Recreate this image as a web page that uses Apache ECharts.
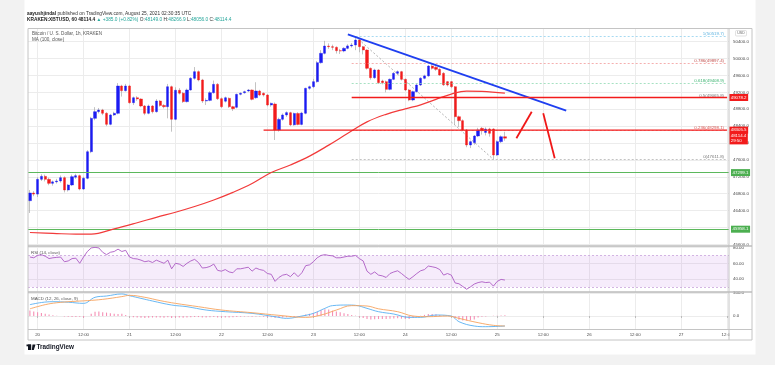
<!DOCTYPE html>
<html><head><meta charset="utf-8">
<script src="https://cdn.jsdelivr.net/npm/echarts@6/dist/echarts.min.js"></script>
<style>html,body{margin:0;padding:0;background:#f2f2f2}#c{width:775px;height:365px}</style>
</head><body><div id="c"></div>
<script>
// ---------- data ----------
const tickLabels = ['20','12:00','21','12:00','22','12:00','23','12:00','24','12:00','25','12:00','26','12:00','27','12:00'];
const firstHour = -2;      // first candle: Aug 19 22:00 (hours from Aug 20 00:00)
const lastAxisHour = 180;  // axis runs to Aug 27 12:00
// hourly candles [open, close, low, high]
const candles = [
[46633,46816,46342,46886],[46816,46790,46740,46860],[46790,47140,46720,47190],[47140,47210,47100,47260],
[47210,47140,47090,47250],[47140,47045,47000,47180],[47045,47080,46990,47110],[47080,47100,47040,47150],
[47100,47178,47060,47230],[47178,46887,46830,47210],[46887,47005,46850,47030],[47005,47202,46980,47250],
[47190,47226,47150,47270],[47226,46910,46880,47250],[46910,47164,46890,47200],[47164,47794,47140,47830],
[47794,48585,47760,48620],[48585,48742,48540,48850],[48742,48782,48700,48830],[48782,48704,48660,48810],
[48704,48443,48400,48730],[48443,48664,48420,48690],[48664,48704,48640,48740],[48704,49351,48680,49420],
[49351,49240,49100,49380],[49240,49351,49220,49400],[49351,48955,48930,49380],[48955,49073,48900,49100],
[49073,49043,49000,49110],[49043,48877,48850,49060],[48877,48704,48660,48900],[48704,48877,48680,48910],
[48877,48742,48700,48900],[48742,48995,48720,49040],[48995,48890,48860,49020],[48890,48860,48820,48920],
[48860,49334,48585,49400],[49334,48562,48268,49360],[48562,49250,48540,49320],[49250,49180,49150,49300],
[49180,48980,48950,49210],[48980,49256,48960,49290],[49256,49533,49240,49560],[49533,49690,49500,49800],
[49690,49493,49460,49720],[49493,48995,48950,49520],[48995,49010,48900,49060],[49010,49192,48990,49230],
[49192,49390,49170,49480],[49390,49050,49020,49420],[49050,48860,48830,49080],[48990,49073,48960,49100],
[49059,48860,48830,49080],[48860,48813,48760,48880],[48846,49154,48820,49170],[49154,49178,49130,49200],
[49190,49216,49170,49240],[49232,49256,49210,49280],[49256,49035,49010,49270],[49073,49232,49050,49440],
[49232,49137,49110,49260],[49178,49137,49100,49200],[49137,48900,48870,49160],[48900,48940,48860,48960],
[48924,48308,48071,48960],[48308,48560,48270,48600],[48562,48664,48530,48700],[48664,48720,48620,48750],
[48718,48430,48400,48740],[48430,48700,48410,48720],[48700,48440,48420,48730],[48440,48710,48420,48740],
[48704,49296,48680,49310],[49296,49334,49260,49360],[49334,49453,49300,49520],[49453,49903,49430,49940],
[49903,50125,49880,50200],[50125,50298,50100,50420],[50298,50282,50230,50360],[50282,50267,50200,50330],
[50267,50187,50120,50290],[50187,50180,50110,50230],[50180,50243,50150,50270],[50243,50300,50220,50340],
[50300,50322,50260,50370],[50322,50440,50200,50519.7],[50440,50282,50150,50480],[50282,50203,50100,50300],
[50203,49770,49740,50220],[49770,49547,49500,49790],[49547,49730,49520,49760],[49730,49430,49400,49750],
[49470,49430,49390,49500],[49453,49272,49200,49480],[49272,49509,49250,49530],[49509,49651,49490,49680],
[49651,49690,49610,49720],[49690,49509,49480,49710],[49509,49256,49230,49530],[49256,49019,48990,49280],
[49019,49216,48990,49240],[49216,49374,49200,49400],[49374,49533,49350,49560],[49533,49590,49510,49620],
[49590,49824,49570,49850],[49824,49770,49740,49880],[49793,49746,49710,49820],[49746,49611,49590,49770],
[49651,49380,49350,49680],[49453,49374,49340,49470],[49453,49334,49300,49470],[49334,48623,48427,49350],
[48623,48529,48380,48650],[48529,48308,48280,48560],[48308,47953,47900,48330],[47953,48032,47880,48060],
[48008,48166,47960,48190],[48166,48308,48140,48360],[48348,48292,48200,48380],[48250,48330,48180,48370],
[48332,48230,48150,48360],[48332,47716,47611.8,48350],[47716,48032,47690,48060],[48032,48149,48000,48180],
[48149,48114.4,48056,48266.9]
];
// MA(100, close) read at [hour, value]
const maPoints = [[-2,45880],[4,45860],[10,45840],[14,45842],[20,45965],[26,46110],[31,46240],[36,46360],
[41,46495],[46,46650],[51,46830],[56,47040],[61,47300],[66,47480],[71,47690],[76,47950],[81,48230],[86,48500],
[91,48680],[96,48810],[100,48905],[104,49035],[108,49160],[112,49228],[116,49222],[122,49180]];
// RSI(14) hourly from h=-2
const rsi = [68,67,70,71,69,66,67,67.5,68,62,63,66,
66.5,60,68,75,79.5,80.3,79.5,74,71,74,
75,78,75,76.5,68,66,65.5,64,62,63,
61,64,62,60,64,53,60,59,56,60,
63,65,61,54,54.5,56,59,51,50,52,
49,48,53,53,54,55,50,54,52,51,
47,46,37,42,45,46,43,48,43,48,
57,58,62,67,70,71,70,69.5,67,67,
68,69,69,70,66,63,50,46,49,45,
44,42,47,49,50.5,47,43,39.5,43,47,
50.5,52,56.5,55.6,54.5,52,45,47,45,35,
34,30.5,27,30,33.6,35.5,36.5,35.5,36,31,
37,39.5,38.7];
// MACD(12,26,9): lines read at [hour, value], histogram hourly from h=-2
const macdPts = [[-2,150],[1,178],[4,189],[8,182],[12,167],[15,247],[18,264],[22,291],[24,268],[27,233],[30,198],
[35,145],[39,123],[44,79],[49,57],[56,35],[62,-9],[65,-31],[69,0],[72,35],[75,101],[77,137],[81,145],[83,141],
[86,101],[89,57],[93,26],[97,-18],[100,-18],[104,13],[108,0],[110,-75],[114,-132],[117,-141],[122,-132]];
const signalPts = [[-2,95],[2,150],[5,175],[9,192],[13,203],[17,220],[22,256],[24,273],[28,247],[32,203],[36,167],
[42,123],[48,79],[56,44],[63,9],[70,-18],[74,13],[78,79],[82,137],[86,132],[89,95],[94,57],[98,0],[102,-9],
[107,0],[110,-31],[115,-88],[119,-123],[122,-132]];
const hist = [72,60,50,40,30,20,
10,5,0,-5,-10,-12,-12,-10,-20,
0,30,55,60,50,45,38,
30,25,30,15,
-5,-15,-20,-22,-25,-22,-20,-18,-20,-22,
-15,-25,-20,-20,-22,-20,-15,-12,-14,-20,-18,-16,
-14,-18,-20,-18,-18,-17,-12,-10,-8,-6,-9,-7,-8,-10,-12,
-15,-25,-22,-18,-16,-15,-13,-10,-5,
20,30,40,55,75,90,85,70,60,50,
35,25,15,5,-10,-25,-40,-45,-42,-40,
-38,-40,-35,-32,-30,-35,-40,-38,-25,
-10,5,15,25,26,22,15,8,2,
-5,-30,-50,-60,-60,-55,-45,-20,-10,
-5,0,3,5,8,9];
// drawings
const fibRatios = ['1','0.786','0.618','0.5','0.236','0'];
const fibValues = [50519.7,49897.4,49408.9,49065.8,48298.1,47611.8];
const fibStartHour = 82;
const fibAnchors = [[83,50519.7],[119,47611.8]];
const greenLevels = [47299.1,45958.1];
const redLevels = [49078.2,48305.5];
const redStartHours = [82,59];
const lastPrice = 48114.4, countdown = '29:50';
const trendLine = [[81,50575],[138,48765]];
const arrowUp = [[125,48112],[129,48742]];
const arrowDown = [[132,48704],[135,47637]];

// ---------- chart ----------
const FONT = 'Liberation Sans, Arial, sans-serif';
const idx = h => h - firstHour;
const cats = []; for (let h = firstHour; h <= lastAxisHour; h++) cats.push(String(h));
const isTick = (i, v) => { const h = +v; return h >= 0 && h % 12 === 0; };
const GRID = '#ececec';
const CLEAR = 'rgba(255,255,255,0)';

function xa(g, labels) {
  return {type:'category', gridIndex:g, data:cats, boundaryGap:true,
    axisLine:{show:false},
    axisTick: labels ? {show:true, interval:isTick, alignWithLabel:true, length:2, lineStyle:{color:'#9a9a9a', width:0.6}} : {show:false},
    axisLabel: labels ? {show:true, interval:isTick, formatter:v => tickLabels[(+v)/12], fontSize:4.4, color:'#4a4a4a', margin:3, fontFamily:FONT} : {show:false},
    splitLine:{show:true, interval:isTick, alignWithLabel:true, lineStyle:{color:GRID, width:1}}};
}
function ya(g, min, max, step, dec) {
  return {type:'value', gridIndex:g, position:'right', min, max, minInterval:step, maxInterval:step, splitNumber:5,
    axisLine:{show:false}, axisTick:{show:false},
    axisLabel:{fontSize:4.4, color:'#4a4a4a', margin:4, fontFamily:FONT,
      formatter: v => (Math.abs(v / step - Math.round(v / step)) < 1e-6 ? v.toFixed(dec) : '')},
    splitLine:{lineStyle:{color:GRID, width:1}}};
}
const box = (text, bg) => ({show:true, position:'end', distance:2, formatter:text, backgroundColor:bg, color:'#fff',
  fontSize:4.4, fontFamily:FONT, padding:[1,1.6,0.6,1.6], lineHeight:5.4});

// axis boxes; green lines drawn here, red lines drawn by line series below
const bodyMarks = [];
greenLevels.forEach(v => bodyMarks.push({yAxis:v, lineStyle:{color:'#5cb85c', width:1, type:'solid'}, label:box(v.toFixed(1), '#4caf50')}));
redLevels.forEach(v => bodyMarks.push([
  {coord:[idx(lastAxisHour - 1), v], lineStyle:{color:CLEAR, width:0.1}, label:box(v.toFixed(1), '#f21b1b')},
  {coord:[idx(lastAxisHour), v]}]));
bodyMarks.push([
  {coord:[idx(lastAxisHour - 1), lastPrice], lineStyle:{color:CLEAR, width:0.1}, label:box(lastPrice.toFixed(1) + '\n' + countdown, '#f21b1b')},
  {coord:[idx(lastAxisHour), lastPrice]}]);

const fibLine = ['#8fd0ef','#f29b9b','#8fd9b3',CLEAR,'#f29b9b','#b5b5b5'];
const fibText = ['#5fb3e0','#c0504d','#3cb371','#777777','#d9534f','#777777'];
const fibMarks = fibValues.map((v, k) => [
  {coord:[idx(fibStartHour), v], lineStyle:{color:fibLine[k], width:0.8, type:[2,2]},
   label:{show:true, position:'insideEndTop', distance:[3,0.5], formatter:fibRatios[k] + '(' + v.toFixed(1) + ')',
          color:fibText[k], fontSize:4.4, fontFamily:FONT}},
  {coord:[idx(lastAxisHour), v]}]);

const P = pts => pts.map(([h, v]) => [idx(h), v]);
const redLineSeries = redLevels.map((v, k) => ({type:'line', name:'level' + k, xAxisIndex:0, yAxisIndex:0, z:7,
  data:[[idx(redStartHours[k]), v], [idx(lastAxisHour), v]], showSymbol:false, lineStyle:{color:'#f21b1b', width:1.3}}));

const option = {
  backgroundColor:'#f2f2f2', animation:false,
  textStyle:{fontFamily:FONT},
  grid:[
    {left:28, top:28.5, width:701, height:217.5},
    {left:28, top:246, width:701, height:46},
    {left:28, top:292, width:701, height:37.5}
  ],
  xAxis:[xa(0,false), xa(1,false), xa(2,true)],
  yAxis:[ya(0,45560,50713,400,1), ya(1,23.5,82,20,2), ya(2,-178,317,300,1)],
  series:[
    {type:'candlestick', name:'wick', xAxisIndex:0, yAxisIndex:0, data:candles, barWidth:1.2, z:3,
     itemStyle:{color:'transparent', color0:'transparent', borderColor:'#a9a9a9', borderColor0:'#a9a9a9', borderWidth:0.7},
     markLine:{silent:true, symbol:'none', animation:false, data:fibMarks}},
    {type:'candlestick', name:'body', xAxisIndex:0, yAxisIndex:0, z:4, barWidth:2.7,
     data:candles.map(([o,c]) => [o, c, Math.min(o,c), Math.max(o,c)]),
     itemStyle:{color:'#1b1bf2', color0:'#f21b1b', borderColor:'#1b1bf2', borderColor0:'#f21b1b', borderWidth:0.4},
     markLine:{silent:true, symbol:'none', animation:false, data:bodyMarks}},
    ...redLineSeries,
    {type:'line', name:'MA', xAxisIndex:0, yAxisIndex:0, data:P(maPoints), smooth:0.4, showSymbol:false, z:5,
     lineStyle:{color:'#f23a3a', width:1.2}},
    {type:'line', name:'fibdiag', xAxisIndex:0, yAxisIndex:0, data:P(fibAnchors), showSymbol:false, z:3,
     lineStyle:{color:'#a0a0a0', width:0.8, type:[2,2]}},
    {type:'line', name:'trend', xAxisIndex:0, yAxisIndex:0, data:P(trendLine), showSymbol:false, z:6,
     lineStyle:{color:'#1f3ff0', width:1.8}},
    {type:'line', name:'up', xAxisIndex:0, yAxisIndex:0, data:P(arrowUp), showSymbol:false, z:6,
     lineStyle:{color:'#f01818', width:1.8}},
    {type:'line', name:'down', xAxisIndex:0, yAxisIndex:0, data:P(arrowDown), showSymbol:false, z:6,
     lineStyle:{color:'#f01818', width:1.8}},
    {type:'line', name:'RSI', xAxisIndex:1, yAxisIndex:1, data:rsi, showSymbol:false, z:5,
     lineStyle:{color:'#ad5bc4', width:0.9},
     markArea:{silent:true, itemStyle:{color:'rgba(170,80,220,0.11)'}, data:[[{yAxis:30},{yAxis:70}]]},
     markLine:{silent:true, symbol:'none', label:{show:false}, lineStyle:{color:'#c9a4dc', width:0.8, type:[2,2]},
       data:[{yAxis:70},{yAxis:30}]}},
    {type:'bar', name:'hist', xAxisIndex:2, yAxisIndex:2, data:hist, barWidth:1.1, z:3,
     itemStyle:{color:'#f58fb4'}},
    {type:'line', name:'MACD', xAxisIndex:2, yAxisIndex:2, data:P(macdPts), smooth:0.4, showSymbol:false, z:5,
     lineStyle:{color:'#58b0f2', width:0.9}},
    {type:'line', name:'Signal', xAxisIndex:2, yAxisIndex:2, data:P(signalPts), smooth:0.4, showSymbol:false, z:5,
     lineStyle:{color:'#f6a35e', width:0.9}}
  ],
  graphic:[
    {type:'rect', z:-10, shape:{x:24.5, y:0, width:731, height:354.5}, style:{fill:'#ffffff'}},
    {type:'rect', z:50, shape:{x:729.5, y:330, width:22, height:9.5}, style:{fill:'#ffffff'}},
    {type:'rect', z:51, shape:{x:28, y:28.5, width:724, height:311.5}, style:{fill:null, stroke:'#c4c4c4', lineWidth:1}},
    {type:'line', z:51, shape:{x1:729, y1:28.5, x2:729, y2:340}, style:{stroke:'#c4c4c4', lineWidth:1}},
    {type:'line', z:51, shape:{x1:28, y1:246, x2:752, y2:246}, style:{stroke:'#bdbdbd', lineWidth:1.6}},
    {type:'line', z:51, shape:{x1:28, y1:292, x2:752, y2:292}, style:{stroke:'#bdbdbd', lineWidth:1.6}},
    {type:'line', z:51, shape:{x1:28, y1:329.5, x2:752, y2:329.5}, style:{stroke:'#c4c4c4', lineWidth:1}},
    {type:'text', z:52, style:{x:27, y:14, verticalAlign:'middle', fill:'#333', font:'4.8px ' + FONT,
      text:'{b|aayushjindal} published on TradingView.com, August 25, 2021 02:30:35 UTC',
      rich:{b:{fontWeight:'bold', fontSize:4.8, fill:'#222'}}}},
    {type:'text', z:52, style:{x:27, y:19.5, verticalAlign:'middle', fill:'#333', font:'4.8px ' + FONT,
      text:'{k|KRAKEN:XBTUSD, 60 48114.4} {g|▲ +385.0 (+0.82%)} O:{v|48149.0} H:{v|48266.9} L:{v|48056.0} C:{v|48114.4}',
      rich:{k:{fontWeight:'bold', fontSize:4.8, fill:'#222'}, g:{fontSize:4.8, fill:'#26a69a'}, v:{fontSize:4.8, fill:'#26a69a'}}}},
    {type:'text', z:52, style:{x:32, y:33.5, verticalAlign:'middle', fill:'#555', font:'4.6px ' + FONT, text:'Bitcoin / U. S. Dollar, 1h, KRAKEN'}},
    {type:'text', z:52, style:{x:32, y:39.3, verticalAlign:'middle', fill:'#555', font:'4.6px ' + FONT, text:'MA (100, close)'}},
    {type:'text', z:52, style:{x:31, y:253, verticalAlign:'middle', fill:'#555', font:'4.4px ' + FONT, text:'RSI (14, close)'}},
    {type:'text', z:52, style:{x:31, y:299, verticalAlign:'middle', fill:'#555', font:'4.4px ' + FONT, text:'MACD (12, 26, close, 9)'}},
    {type:'rect', z:52, shape:{x:735.5, y:30.5, width:11, height:5.5, r:1}, style:{fill:'#fff', stroke:'#cfcfcf', lineWidth:0.6}},
    {type:'text', z:53, style:{x:741, y:33.3, align:'center', verticalAlign:'middle', fill:'#666', font:'3.6px ' + FONT, text:'USD'}},
    {type:'rect', z:52, shape:{x:28, y:344.5, width:3.2, height:5.5}, style:{fill:'#131722'}},
    {type:'rect', z:52, shape:{x:26.5, y:344.5, width:4.5, height:1.8}, style:{fill:'#131722'}},
    {type:'polygon', z:52, shape:{points:[[32.5,344.5],[35.5,344.5],[33.8,350],[31.8,350]]}, style:{fill:'#131722'}},
    {type:'text', z:52, style:{x:36.5, y:347.4, verticalAlign:'middle', fill:'#131722', font:'bold 6.4px ' + FONT, text:'TradingView'}}
  ]
};
echarts.init(document.getElementById('c')).setOption(option);
</script></body></html>
